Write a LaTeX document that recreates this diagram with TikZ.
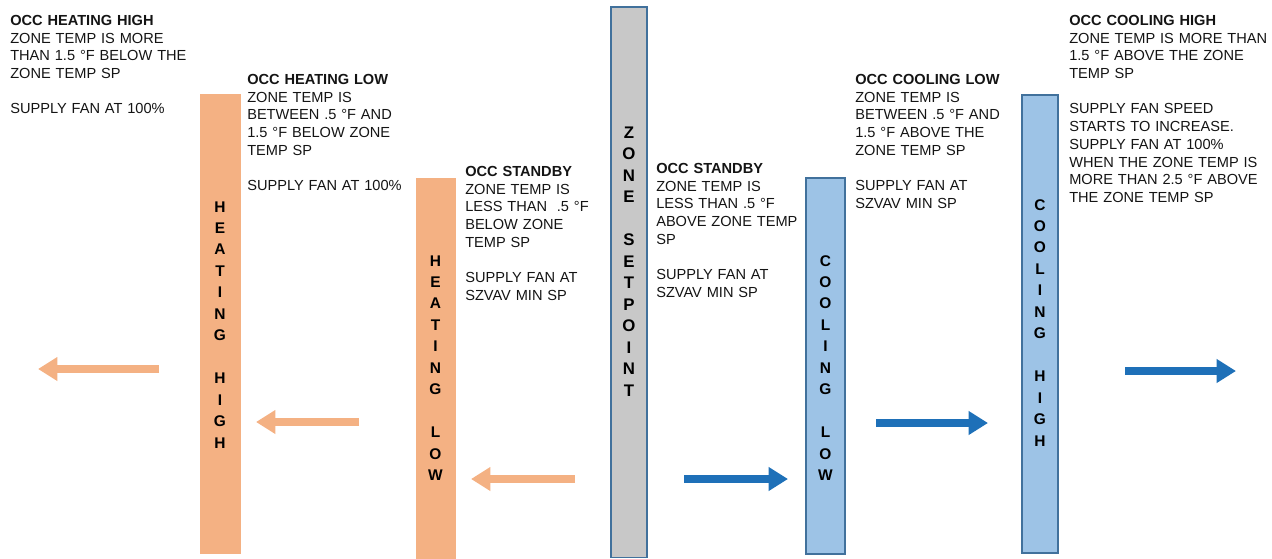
\documentclass[tikz,border=0pt]{standalone}
\usepackage{fontspec}
\setmainfont{Liberation Sans}
\usetikzlibrary{arrows.meta}
\definecolor{heatfill}{RGB}{244,177,131}
\definecolor{coolfill}{RGB}{157,195,230}
\definecolor{coolline}{RGB}{65,113,156}
\definecolor{spfill}{RGB}{200,200,200}
\definecolor{arrowblue}{RGB}{30,112,184}
\definecolor{txt}{RGB}{20,20,20}
\begin{document}
\begin{tikzpicture}[x=0.75pt,y=-0.75pt,
  info/.style={anchor=base west, inner sep=0pt, text width=220pt, align=left,
    font=\fontsize{10.95pt}{13.3pt}\selectfont, text=txt},
  barlabel/.style={anchor=base, inner sep=0pt, text width=20pt, align=center,
    font=\fontsize{11.6pt}{16.1pt}\selectfont\bfseries, text=black},
  heatbar/.style={fill=heatfill, draw=heatfill},
  coolbar/.style={fill=coolfill, draw=coolline, line width=1pt},
  spbar/.style={fill=spfill, draw=coolline, line width=1pt},
  heatarrow/.style={draw=heatfill, line width=5.6pt, -{Triangle[width=17pt,length=14.5pt]}},
  coolarrow/.style={draw=arrowblue, line width=5.6pt, -{Triangle[width=17pt,length=14.5pt]}}]

\useasboundingbox (0,0) rectangle (1272,558);

% bars
\path[heatbar] (200,94) rectangle (240,553);
\path[heatbar] (416,178) rectangle (455,558);
\path[spbar] (611,7) rectangle (647,557.5);
\path[coolbar] (806,178) rectangle (845,554);
\path[coolbar] (1022,95) rectangle (1058,553);

% bar labels
\node[barlabel] (hhl) at (220,212) {H\\E\\A\\T\\I\\N\\G\\[16.1pt]H\\I\\G\\H};
\node[barlabel] (hll) at (435.5,266) {H\\E\\A\\T\\I\\N\\G\\[16.1pt]L\\O\\W};
\node[barlabel, font=\fontsize{12.6pt}{16.1pt}\selectfont\bfseries] (zsl) at (629,138.5) {Z\\O\\N\\E\\[16.1pt]S\\E\\T\\P\\O\\I\\N\\T};
\node[barlabel] (cll) at (825.5,266) {C\\O\\O\\L\\I\\N\\G\\[16.1pt]L\\O\\W};
\node[barlabel] (chl) at (1040,210) {C\\O\\O\\L\\I\\N\\G\\[16.1pt]H\\I\\G\\H};

% text blocks
\node[info] (thh) at (10,25.3) {{\bfseries OCC HEATING HIGH}\\ZONE TEMP IS MORE\\THAN 1.5 °F BELOW THE\\ZONE TEMP SP\\[13.3pt]SUPPLY FAN AT 100\%};
\node[info] (thl) at (247,84.3) {{\bfseries OCC HEATING LOW}\\ZONE TEMP IS\\BETWEEN .5 °F AND\\1.5 °F BELOW ZONE\\TEMP SP\\[13.3pt]SUPPLY FAN AT 100\%};
\node[info] (tsh) at (465,176.3) {{\bfseries OCC STANDBY}\\ZONE TEMP IS\\LESS THAN \ .5 °F\\BELOW ZONE\\TEMP SP\\[13.3pt]SUPPLY FAN AT\\SZVAV MIN SP};
\node[info] (tsc) at (656,173.3) {{\bfseries OCC STANDBY}\\ZONE TEMP IS\\LESS THAN .5 °F\\ABOVE ZONE TEMP\\SP\\[13.3pt]SUPPLY FAN AT\\SZVAV MIN SP};
\node[info] (tcl) at (855,84.3) {{\bfseries OCC COOLING LOW}\\ZONE TEMP IS\\BETWEEN .5 °F AND\\1.5 °F ABOVE THE\\ZONE TEMP SP\\[13.3pt]SUPPLY FAN AT\\SZVAV MIN SP};
\node[info] (tch) at (1069,25.3) {{\bfseries OCC COOLING HIGH}\\ZONE TEMP IS MORE THAN\\1.5 °F ABOVE THE ZONE\\TEMP SP\\[13.3pt]SUPPLY FAN SPEED\\STARTS TO INCREASE.\\SUPPLY FAN AT 100\%\\WHEN THE ZONE TEMP IS\\MORE THAN 2.5 °F ABOVE\\THE ZONE TEMP SP};

% arrows
\coordinate (h1s) at (159,369); \coordinate (h1e) at (38,369);
\coordinate (h2s) at (359,422); \coordinate (h2e) at (256,422);
\coordinate (h3s) at (575,479); \coordinate (h3e) at (471,479);
\coordinate (c1s) at (684,479); \coordinate (c1e) at (788,479);
\coordinate (c2s) at (876,423); \coordinate (c2e) at (988,423);
\coordinate (c3s) at (1125,371); \coordinate (c3e) at (1236,371);
\draw[heatarrow] (h1s) -- (h1e);
\draw[heatarrow] (h2s) -- (h2e);
\draw[heatarrow] (h3s) -- (h3e);
\draw[coolarrow] (c1s) -- (c1e);
\draw[coolarrow] (c2s) -- (c2e);
\draw[coolarrow] (c3s) -- (c3e);
\end{tikzpicture}
\end{document}
